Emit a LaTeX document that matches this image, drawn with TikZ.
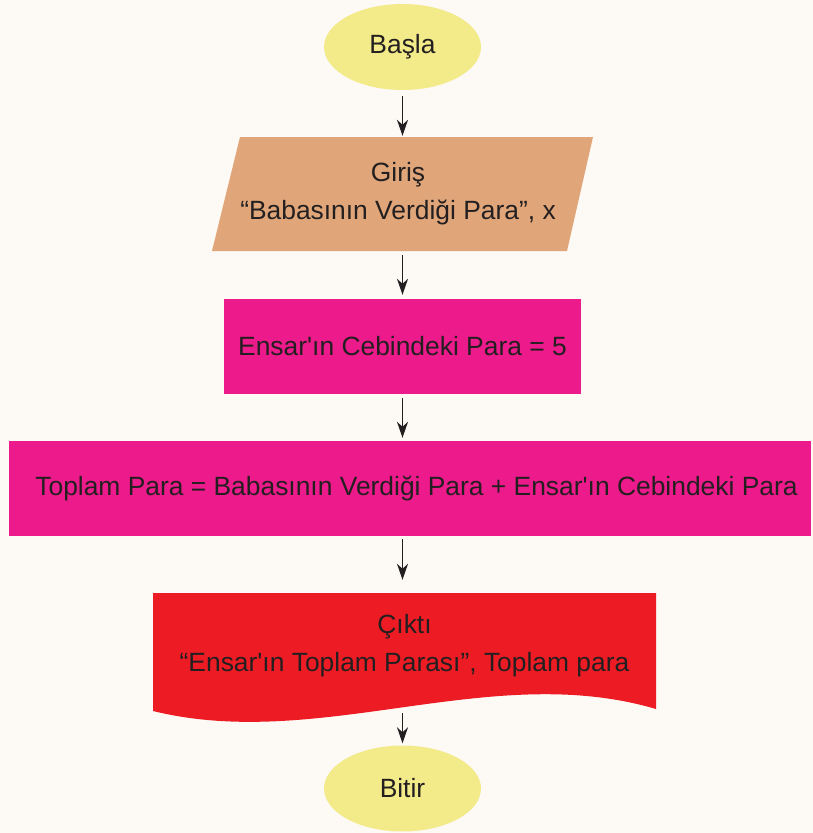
\documentclass[tikz,border=0pt]{standalone}
\usepackage{fontspec}
\newfontfamily\lib{Liberation Sans}
\usetikzlibrary{arrows.meta}
\definecolor{bg}{HTML}{FDF9F5}
\definecolor{yel}{HTML}{F3EA8A}
\definecolor{tan}{HTML}{E0A67A}
\definecolor{mag}{HTML}{EC1A8B}
\definecolor{rd}{HTML}{ED1C24}
\definecolor{txt}{HTML}{231F20}
\usetikzlibrary{shapes.geometric}
\begin{document}
\begin{tikzpicture}[x=1pt,y=-1pt,
  every node/.style={font=\lib\fontsize{26.4}{38}\selectfont, text=txt, inner sep=0pt},
  term/.style={ellipse, fill=yel, minimum width=157pt, minimum height=86pt},
  io/.style={rectangle, minimum width=340pt, minimum height=114pt, align=center},
  proc/.style={rectangle, fill=mag, minimum height=95pt},
  arr/.style={-{Stealth[length=16pt,width=11pt,inset=5pt]}, line width=1.5pt, draw=txt}
]
\fill[bg] (0,0) rectangle (813,833);
\useasboundingbox (0,0) rectangle (813,833);

\node[term] (basla) at (402.5,47) {Başla};
\fill[tan] (240,137) -- (593,137) -- (567,251) -- (212,251) -- cycle;
\node[io] (giris) at (398,194) {Giriş\\“Babasının Verdiği Para”, x};
\node[proc, minimum width=357pt] (r1) at (402.5,346.5) {Ensar'ın Cebindeki Para = 5};
\node[proc, minimum width=802pt] (r2) at (410,488.5) {\hspace*{13pt}Toplam Para = Babasının Verdiği Para + Ensar'ın Cebindeki Para};
\fill[rd] (153,593) -- (656,593) -- (656,709) .. controls (490,660) and (320,752) .. (153,711) -- cycle;
\node[align=center, minimum width=503pt, minimum height=102pt] (cikti) at (404.5,646) {Çıktı\\“Ensar'ın Toplam Parası”, Toplam para};
\node[term] (bitir) at (402.5,788.5) {Bitir};

\draw[arr, shorten <=6pt, shorten >=1pt] (basla.south) -- (basla.south |- giris.north);
\draw[arr, shorten <=4pt, shorten >=4pt] (basla.south |- giris.south) -- (r1.north);
\draw[arr, shorten <=4pt, shorten >=3pt] (r1.south) -- (r1.south |- r2.north);
\draw[arr, shorten <=3pt, shorten >=15pt] (r1.south |- r2.south) -- (r1.south |- cikti.north);
\draw[arr, shorten <=16pt, shorten >=2pt] (cikti.south -| bitir.north) -- (bitir.north);
\end{tikzpicture}
\end{document}
